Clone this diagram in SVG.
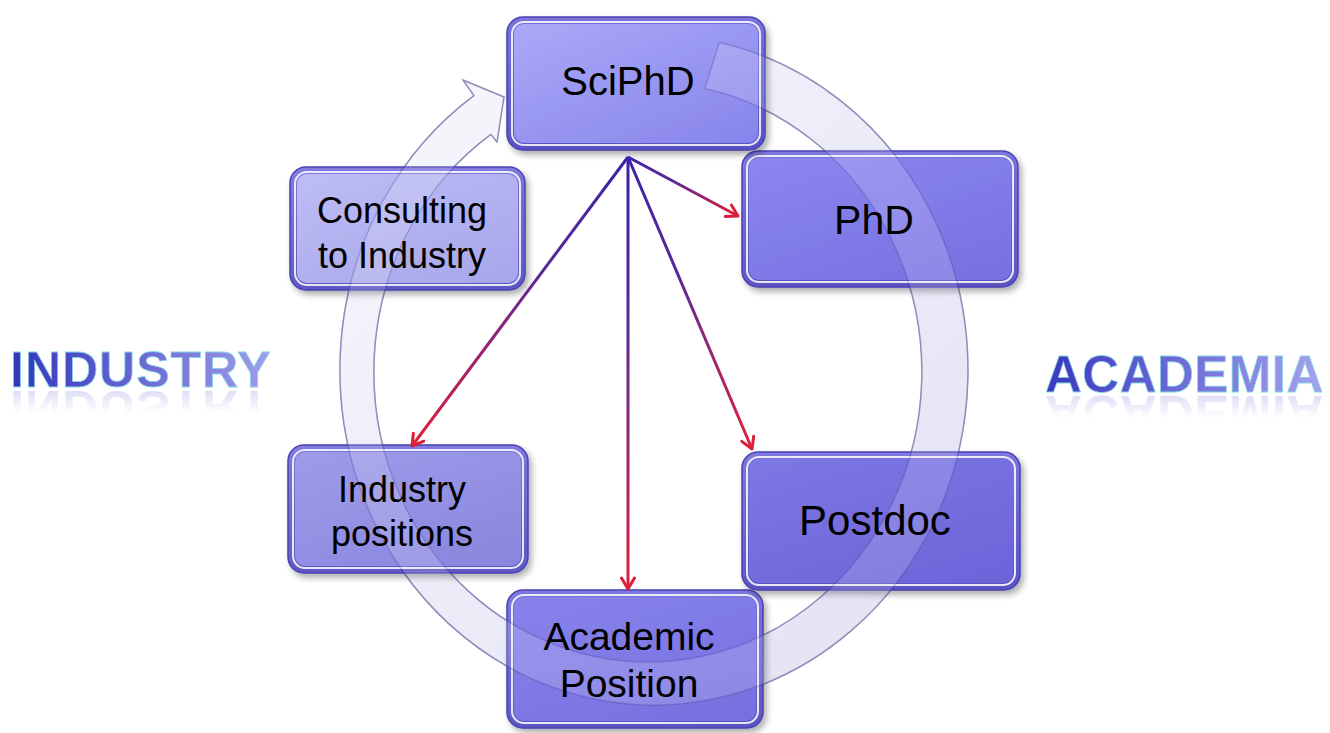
<svg xmlns="http://www.w3.org/2000/svg" width="1330" height="733" viewBox="0 0 1330 733">
<style>
.rim{stroke:#4a42b4;stroke-width:1.5}
.hl{fill:none;stroke:#ffffff;stroke-width:2;stroke-opacity:0.85}
.lbl{font-family:"Liberation Sans",Arial,sans-serif;fill:#000;text-anchor:middle}
.big{font-family:"Liberation Sans",Arial,sans-serif;font-weight:bold}
.con{fill:none;stroke-width:3}
</style>
<defs>
<filter id="sh" x="-10%" y="-10%" width="125%" height="130%">
<feGaussianBlur in="SourceAlpha" stdDeviation="3"/>
<feOffset dx="3" dy="4" result="b"/>
<feComponentTransfer><feFuncA type="linear" slope="0.35"/></feComponentTransfer>
<feMerge><feMergeNode/><feMergeNode in="SourceGraphic"/></feMerge>
</filter>
<path id="ringPath" d="M 719.3 42.4 A 314 335 0 1 1 473.9 95.6 L 463 80 L 504 97 L 497 142 L 490.8 134.4 A 274 290 0 1 0 705 88.4 Z"/>
<linearGradient id="ringG" x1="0" y1="0" x2="1" y2="1">
<stop offset="0" stop-color="#f6f6fd"/>
<stop offset="1" stop-color="#dcdcf3"/>
</linearGradient>
<linearGradient id="rimG" x1="0" y1="0" x2="0" y2="1">
<stop offset="0" stop-color="#7068dc"/>
<stop offset="1" stop-color="#4e46c0"/>
</linearGradient>
<linearGradient id="fSci" x1="0" y1="0" x2="1" y2="1">
<stop offset="0" stop-color="#b0b0fb"/><stop offset="1" stop-color="#8c8af0"/>
</linearGradient>
<linearGradient id="fPhD" x1="0" y1="0" x2="1" y2="1">
<stop offset="0" stop-color="#8e8af2"/><stop offset="1" stop-color="#7a74e6"/>
</linearGradient>
<linearGradient id="fPost" x1="0" y1="0" x2="1" y2="1">
<stop offset="0" stop-color="#7e78e6"/><stop offset="1" stop-color="#6e66dc"/>
</linearGradient>
<linearGradient id="fAca" x1="0" y1="0" x2="1" y2="1">
<stop offset="0" stop-color="#8a86ee"/><stop offset="1" stop-color="#7a74e4"/>
</linearGradient>
<linearGradient id="fInd" x1="0" y1="0" x2="1" y2="1">
<stop offset="0" stop-color="#a4a2ee"/><stop offset="1" stop-color="#908ee2"/>
</linearGradient>
<linearGradient id="fCon" x1="0" y1="0" x2="1" y2="1">
<stop offset="0" stop-color="#c6c6f8"/><stop offset="1" stop-color="#b0b0f0"/>
</linearGradient>
<linearGradient id="wInd" gradientUnits="userSpaceOnUse" x1="10" y1="0" x2="268" y2="0">
<stop offset="0" stop-color="#3434bc"/><stop offset="1" stop-color="#a09cec"/>
</linearGradient>
<linearGradient id="wAca" gradientUnits="userSpaceOnUse" x1="1045" y1="0" x2="1318" y2="0">
<stop offset="0" stop-color="#3a36c0"/><stop offset="1" stop-color="#a4a0ee"/>
</linearGradient>
<linearGradient id="rInd" gradientUnits="userSpaceOnUse" x1="0" y1="387" x2="0" y2="365">
<stop offset="0" stop-color="#8a88e0" stop-opacity="0.28"/><stop offset="1" stop-color="#8a88e0" stop-opacity="0"/>
</linearGradient>
<linearGradient id="rAca" gradientUnits="userSpaceOnUse" x1="0" y1="392" x2="0" y2="370">
<stop offset="0" stop-color="#8a88e0" stop-opacity="0.28"/><stop offset="1" stop-color="#8a88e0" stop-opacity="0"/>
</linearGradient>
<linearGradient id="g1" gradientUnits="userSpaceOnUse" x1="628" y1="157" x2="738" y2="216">
<stop offset="0" stop-color="#3a22a8"/><stop offset="0.4" stop-color="#5a2896"/><stop offset="1" stop-color="#e3203a"/>
</linearGradient>
<linearGradient id="g2" gradientUnits="userSpaceOnUse" x1="628" y1="157" x2="752" y2="449">
<stop offset="0" stop-color="#3a22a8"/><stop offset="0.4" stop-color="#5a2896"/><stop offset="1" stop-color="#e3203a"/>
</linearGradient>
<linearGradient id="g3" gradientUnits="userSpaceOnUse" x1="628" y1="157" x2="628" y2="589">
<stop offset="0" stop-color="#3a22a8"/><stop offset="0.4" stop-color="#5a2896"/><stop offset="1" stop-color="#e3203a"/>
</linearGradient>
<linearGradient id="g4" gradientUnits="userSpaceOnUse" x1="628" y1="157" x2="412" y2="446">
<stop offset="0" stop-color="#3a22a8"/><stop offset="0.4" stop-color="#5a2896"/><stop offset="1" stop-color="#e3203a"/>
</linearGradient>
<marker id="ah" markerUnits="userSpaceOnUse" markerWidth="16" markerHeight="16" refX="13" refY="8" orient="auto" viewBox="0 0 16 16">
<path d="M2,1.5 L13,8 L2,14.5" fill="none" stroke="#dc1e3a" stroke-width="3" stroke-linecap="round" stroke-linejoin="round"/>
</marker>
</defs>
<rect width="1330" height="733" fill="#ffffff"/>

<g id="cycle-ring">
<use href="#ringPath" fill="url(#ringG)" stroke="#a6a6c6" stroke-width="1.5" stroke-linejoin="round"/>
</g>

<g id="label-industry">
<text class="big" x="10" y="387" font-size="50" letter-spacing="1" fill="url(#wInd)" stroke="#86d6e2" stroke-width="0.8">INDUSTRY</text>
<text class="big" x="10" y="387" font-size="50" letter-spacing="1" fill="url(#rInd)" transform="matrix(1 0 0 -1 0 778)">INDUSTRY</text>
</g>
<g id="label-academia">
<text class="big" x="1045" y="392" font-size="51" letter-spacing="0.5" fill="url(#wAca)" stroke="#86d6e2" stroke-width="0.8">ACADEMIA</text>
<text class="big" x="1045" y="392" font-size="51" letter-spacing="0.5" fill="url(#rAca)" transform="matrix(1 0 0 -1 0 788)">ACADEMIA</text>
</g>

<g id="n-consulting" filter="url(#sh)">
<rect class="rim" x="290" y="167" width="235" height="123" rx="16" fill="url(#rimG)" fill-opacity="0.85"/>
<rect x="297" y="174" width="221" height="109" rx="10" fill="url(#fCon)" fill-opacity="0.88"/>
<rect class="hl" x="295" y="172" width="225" height="113" rx="12"/>
</g>

<g id="n-industry-positions" filter="url(#sh)">
<rect class="rim" x="288" y="445" width="240" height="128" rx="16" fill="url(#rimG)" fill-opacity="0.85"/>
<rect x="295" y="452" width="226" height="114" rx="10" fill="url(#fInd)" fill-opacity="0.86"/>
<rect class="hl" x="293" y="450" width="230" height="118" rx="12"/>
</g>

<g id="n-academic-position" filter="url(#sh)">
<rect class="rim" x="507" y="590" width="256" height="138" rx="16" fill="url(#rimG)" fill-opacity="0.88"/>
<rect x="514" y="597" width="242" height="124" rx="10" fill="url(#fAca)" fill-opacity="0.86"/>
<rect class="hl" x="512" y="595" width="246" height="128" rx="12"/>
</g>

<g id="n-postdoc" filter="url(#sh)">
<rect class="rim" x="742" y="452" width="278" height="138" rx="16" fill="url(#rimG)" fill-opacity="0.88"/>
<rect x="749" y="459" width="264" height="124" rx="10" fill="url(#fPost)" fill-opacity="0.86"/>
<rect class="hl" x="747" y="457" width="268" height="128" rx="12"/>
</g>

<g id="n-phd" filter="url(#sh)">
<rect class="rim" x="742" y="151" width="276" height="136" rx="16" fill="url(#rimG)" fill-opacity="0.88"/>
<rect x="749" y="158" width="262" height="122" rx="10" fill="url(#fPhD)" fill-opacity="0.86"/>
<rect class="hl" x="747" y="156" width="266" height="126" rx="12"/>
</g>

<g id="n-sciphd" filter="url(#sh)">
<rect class="rim" x="507" y="17" width="258" height="133" rx="16" fill="url(#rimG)" fill-opacity="0.9"/>
<rect x="514" y="24" width="244" height="119" rx="10" fill="url(#fSci)" fill-opacity="0.9"/>
<rect class="hl" x="512" y="22" width="248" height="123" rx="12"/>
</g>

<g id="ring-overlay">
<use href="#ringPath" fill="#ffffff" fill-opacity="0.16" stroke="#3a3290" stroke-opacity="0.25" stroke-width="1.5"/>
</g>

<g id="node-labels">
<text class="lbl" x="402" y="223" font-size="36">Consulting</text>
<text class="lbl" x="402" y="268" font-size="36">to Industry</text>
<text class="lbl" x="402" y="502" font-size="36">Industry</text>
<text class="lbl" x="402" y="546" font-size="36">positions</text>
<text class="lbl" x="629" y="650" font-size="39">Academic</text>
<text class="lbl" x="629" y="697" font-size="39">Position</text>
<text class="lbl" x="875" y="535" font-size="42">Postdoc</text>
<text class="lbl" x="874" y="234" font-size="41">PhD</text>
<text class="lbl" x="628" y="95" font-size="40">SciPhD</text>
</g>

<g id="connectors">
<line class="con" x1="628" y1="157" x2="738" y2="216" stroke="url(#g1)" marker-end="url(#ah)"/>
<line class="con" x1="628" y1="157" x2="752" y2="449" stroke="url(#g2)" marker-end="url(#ah)"/>
<line class="con" x1="628" y1="157" x2="628" y2="589" stroke="url(#g3)" marker-end="url(#ah)"/>
<line class="con" x1="628" y1="157" x2="412" y2="446" stroke="url(#g4)" marker-end="url(#ah)"/>
</g>
</svg>
